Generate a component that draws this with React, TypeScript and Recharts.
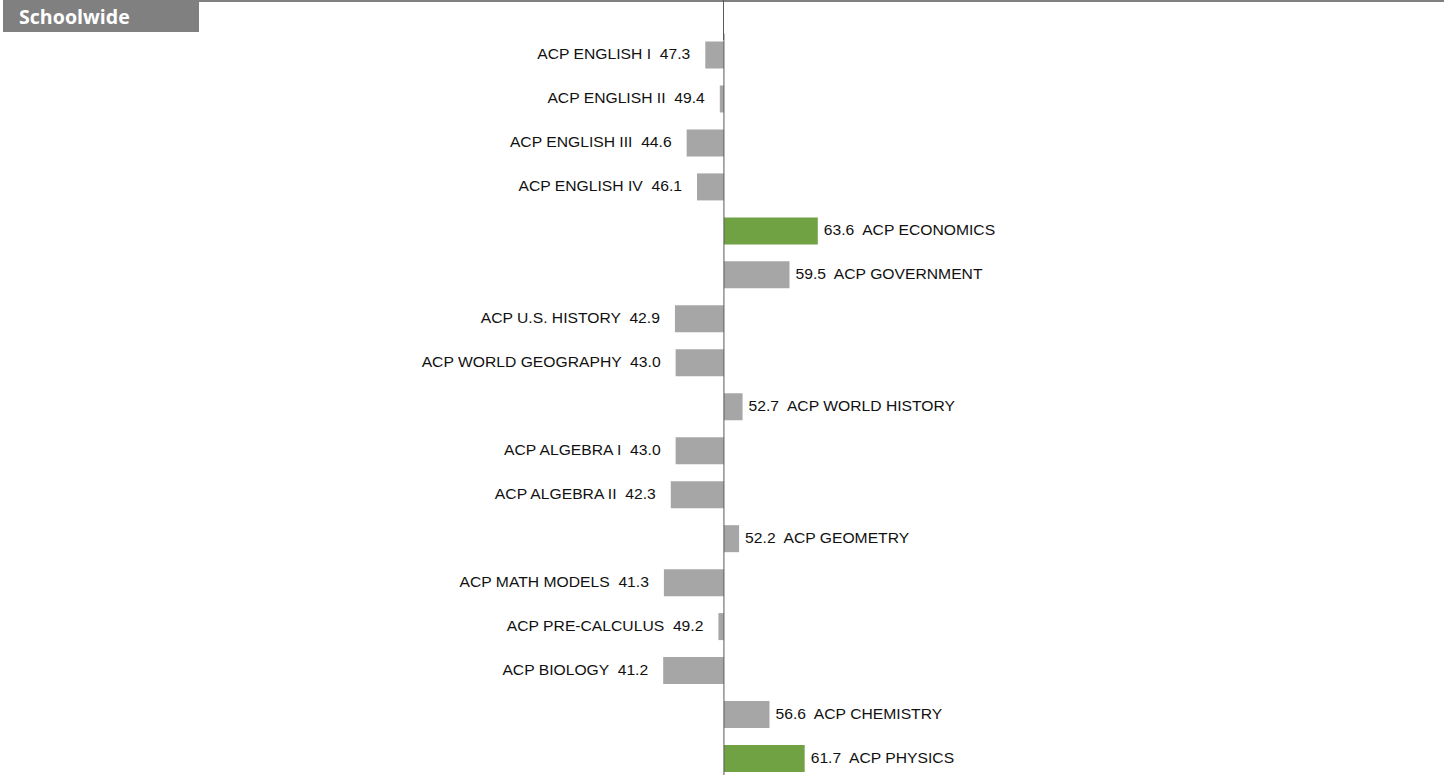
import React from 'react';
import { BarChart, Bar, XAxis, YAxis, Cell, LabelList, ReferenceLine } from 'recharts';

const courses = [
    'ACP ENGLISH I', 'ACP ENGLISH II', 'ACP ENGLISH III', 'ACP ENGLISH IV',
    'ACP ECONOMICS', 'ACP GOVERNMENT', 'ACP U.S. HISTORY', 'ACP WORLD GEOGRAPHY',
    'ACP WORLD HISTORY', 'ACP ALGEBRA I', 'ACP ALGEBRA II', 'ACP GEOMETRY',
    'ACP MATH MODELS', 'ACP PRE-CALCULUS', 'ACP BIOLOGY', 'ACP CHEMISTRY', 'ACP PHYSICS'
];
const scores = [47.3, 49.4, 44.6, 46.1, 63.6, 59.5, 42.9, 43.0, 52.7, 43.0, 42.3, 52.2, 41.3, 49.2, 41.2, 56.6, 61.7];

const BASELINE = 50;
const HIGHLIGHT = 60;
const GRAY = '#A6A6A6';
const GREEN = '#70A244';

const chartData = courses.map((name, i) => ({ name, score: scores[i], diff: scores[i] - BASELINE }));

// text in the source is stretched a little horizontally
const STRETCH = 1.12;

const BarLabel = (props: any) => {
    const { x, y, width, height, index } = props;
    const d = chartData[index];
    const left = Math.min(x, x + width);
    const right = Math.max(x, x + width);
    const cy = y + height / 2 + 4;
    const txtStyle = { fontFamily: 'Liberation Sans, Arial, sans-serif', fontSize: 14, fill: '#111' };
    if (d.diff < 0) {
        return (
            <text transform={`translate(${left - 15},${cy}) scale(${STRETCH},1)`} textAnchor="end" style={txtStyle} xmlSpace="preserve">
                {`${d.name}  ${d.score.toFixed(1)}`}
            </text>
        );
    }
    return (
        <text transform={`translate(${right + 6},${cy}) scale(${STRETCH},1)`} textAnchor="start" style={txtStyle} xmlSpace="preserve">
            {`${d.score.toFixed(1)}  ${d.name}`}
        </text>
    );
};

export default function App() {
    return (
        <div style={{ position: 'absolute', left: 0, top: 0, width: 1452, height: 775, overflow: 'hidden', background: '#fff' }}>
            <svg width={1452} height={40} style={{ position: 'absolute', left: 0, top: 0 }}>
                <rect x={3} y={0} width={196} height={32} fill="#808080" />
                <rect x={199} y={0} width={1245} height={2} fill="#808080" />
                <text x={19} y={24} fill="#fff" style={{ fontFamily: 'Open Sans, sans-serif', fontWeight: 700, fontSize: 19.6 }}>Schoolwide</text>
            </svg>
            <div style={{ position: 'absolute', left: 723, top: 0, width: 1, height: 40, background: '#595959' }} />
            <div style={{ position: 'absolute', left: 0, top: 0 }}>
                <BarChart
                    width={1452}
                    height={781}
                    data={chartData}
                    layout="vertical"
                    margin={{ top: 33.5, right: 0, bottom: 0, left: 0 }}
                >
                    <XAxis type="number" domain={[-104.9, 105.5]} hide allowDataOverflow />
                    <YAxis type="category" dataKey="name" hide />
                    <Bar dataKey="diff" barSize={27} isAnimationActive={false}>
                        {chartData.map((entry, i) => (
                            <Cell key={`cell-${i}`} fill={entry.score >= HIGHLIGHT ? GREEN : GRAY} />
                        ))}
                        <LabelList dataKey="diff" content={<BarLabel />} />
                    </Bar>
                    <ReferenceLine x={0} stroke="#595959" strokeWidth={1} />
                </BarChart>
            </div>
        </div>
    );
}
